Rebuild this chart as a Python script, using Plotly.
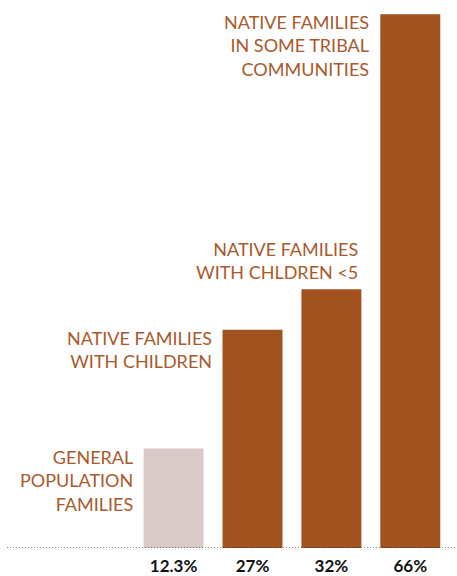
import plotly.graph_objects as go

categories = ["GENERAL<br>POPULATION<br>FAMILIES",
              "NATIVE FAMILIES<br>WITH CHILDREN",
              "NATIVE FAMILIES<br>WITH CHLDREN <5",
              "NATIVE FAMILIES<br>IN SOME TRIBAL<br>COMMUNITIES"]
values = [12.3, 27, 32, 66]
tick_labels = ["12.3%", "27%", "32%", "66%"]
bar_colors = ["#D9C9C7", "#A1521F", "#A1521F", "#A1521F"]

x = list(range(len(values)))
W, H = 457, 576
base_px = 551
px_per_unit = 8.13
xc0, dx = 173.6, 78.9

fig = go.Figure(go.Bar(x=x, y=values, width=0.76, marker_color=bar_colors,
                       marker_line_width=0, hoverinfo="skip"))

txt = "#A85A2B"
font = dict(family="Lato", size=18, color=txt)
for i, (lab, v) in enumerate(zip(categories, values)):
    if i == 2:
        fig.add_annotation(x=i + 0.38, y=v, xref="x", yref="y", text=lab,
                           showarrow=False, xanchor="right", yanchor="top",
                           align="right", font=font, xshift=-1, yshift=53)
    else:
        fig.add_annotation(x=i - 0.38, y=v, xref="x", yref="y", text=lab,
                           showarrow=False, xanchor="right", yanchor="top",
                           align="right", font=font, xshift=-9, yshift=5)

fig.add_shape(type="line", xref="paper", yref="y", x0=7 / W, x1=1, y0=0, y1=0,
              line=dict(color="#111111", width=1, dash="1px,2px"))

fig.update_layout(
    width=W, height=H, margin=dict(l=0, r=0, t=0, b=H - base_px),
    paper_bgcolor="white", plot_bgcolor="white", showlegend=False,
    xaxis=dict(range=[-xc0 / dx, (W - xc0) / dx], tickvals=x, ticktext=tick_labels,
               showgrid=False, zeroline=False, showline=False, ticks="",
               ticklabelstandoff=6,
               tickfont=dict(family="Lato", size=17, color="#111111", weight="bold")),
    yaxis=dict(range=[0, base_px / px_per_unit], visible=False, showgrid=False),
)
fig.write_html("out.html")
